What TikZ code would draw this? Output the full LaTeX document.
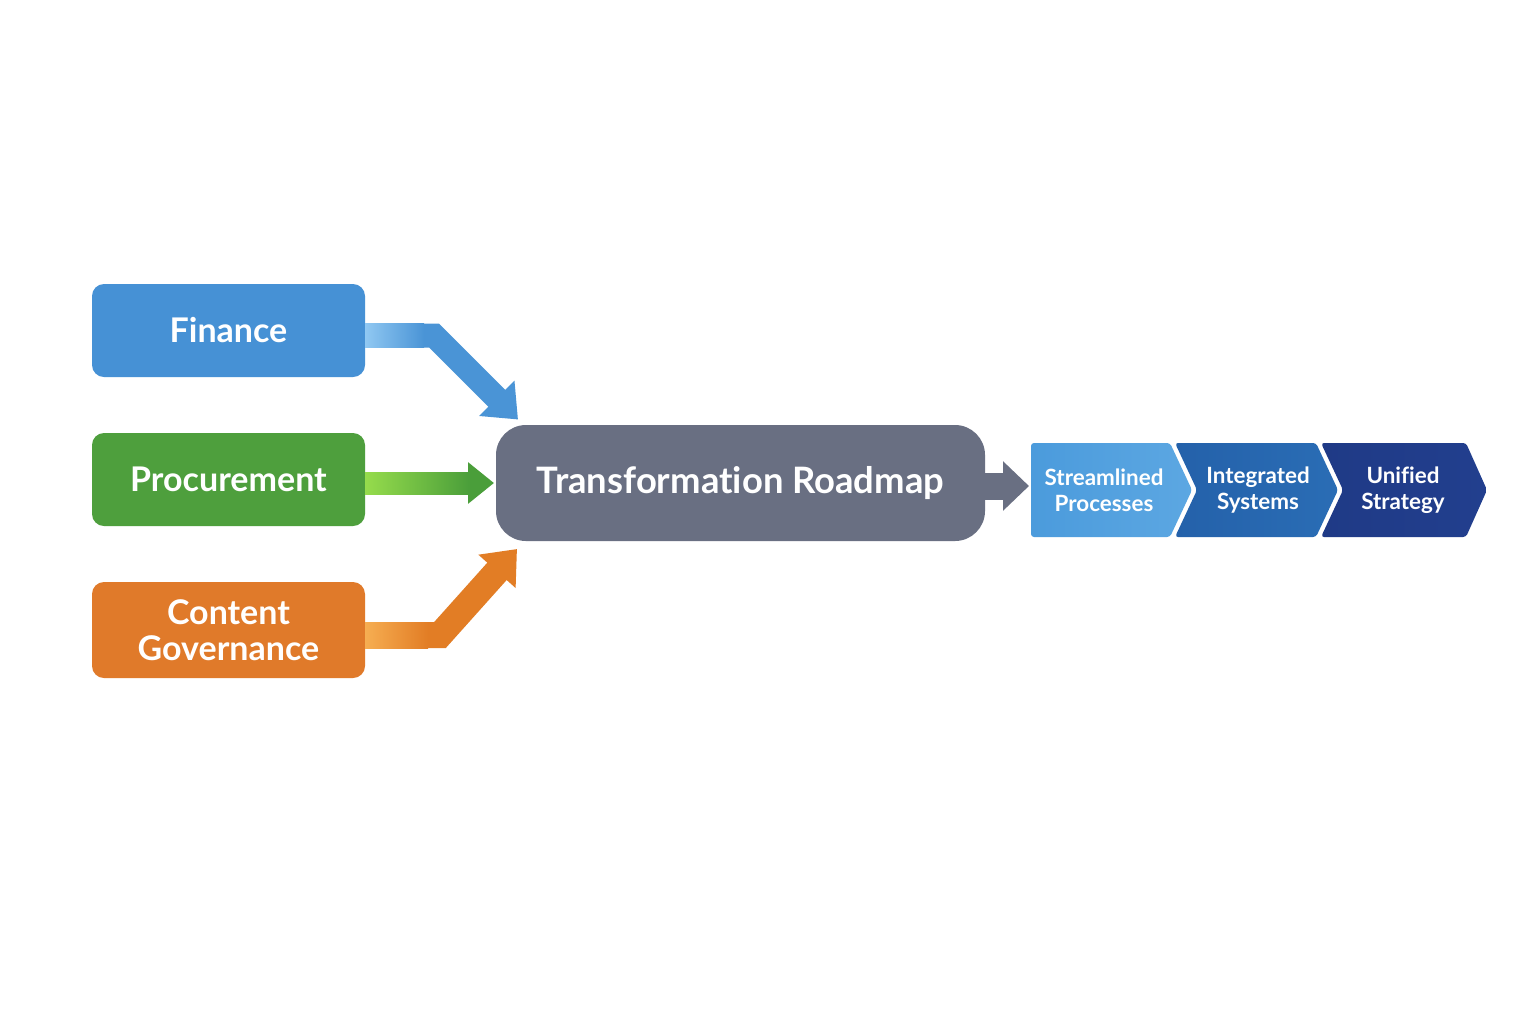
\documentclass[tikz,border=0pt]{standalone}
\usepackage{fontspec}
\setmainfont{Lato}[Ligatures=NoCommon]
\usetikzlibrary{arrows.meta,calc}
\definecolor{finC}{HTML}{4691D5}
\definecolor{finL}{HTML}{90C8F2}
\definecolor{finA}{HTML}{4A94D6}
\definecolor{proC}{HTML}{4E9F3D}
\definecolor{proL}{HTML}{96DC4C}
\definecolor{proA}{HTML}{4A9E3A}
\definecolor{conC}{HTML}{E07A2A}
\definecolor{conL}{HTML}{F6AE52}
\definecolor{conA}{HTML}{E27D25}
\definecolor{roadC}{HTML}{696F82}
\definecolor{chA}{HTML}{4B9BDC}
\definecolor{chAl}{HTML}{5CA7E2}
\definecolor{chB}{HTML}{2461AA}
\definecolor{chBl}{HTML}{2A6DB5}
\definecolor{chC}{HTML}{1F3A86}
\definecolor{chCl}{HTML}{223F8E}
\begin{document}
\begin{tikzpicture}[x=0.5pt,y=-0.5pt,
  srcbox/.style={rounded corners=6pt, minimum width=136.5pt, text=white,
    font=\bfseries\fontsize{17}{18}\selectfont, align=center, inner sep=0pt},
  arr/.style={line join=miter, line cap=butt},
  chtext/.style={text=white, font=\bfseries\fontsize{11.2}{13}\selectfont, align=center, inner sep=0pt}]
\useasboundingbox[fill=white] (0,0) rectangle (1536,1024);

% source boxes
\node[srcbox, fill=finC, minimum height=46.5pt] (fin) at (228.5,330.5) {Finance};
\node[srcbox, fill=proC, minimum height=46.5pt] (pro) at (228.5,479.5) {Procurement};
\node[srcbox, fill=conC, minimum height=48pt] (con) at (228.5,630) {Content\\Governance};

% roadmap
\node[fill=roadC, rounded corners=15pt, minimum width=244.5pt, minimum height=58pt,
  text=white, font=\bfseries\fontsize{18.2}{20}\selectfont, inner sep=0pt] (road) at (740.5,483) {Transformation Roadmap};

% input arrows
\coordinate (fint) at (518,419.5);
\coordinate (prot) at (494,483);
\coordinate (cont) at (517,549);
\draw[arr, finA, line width=12pt, -{Triangle[width=24pt,length=15pt]}]
  ($(fin.east)+(0,5)$) -- (434,335.5) -- (fint);
\shade[left color=finL, right color=finA] (365,323.5) rectangle (424,347.5);
\draw[arr, proA, line width=11pt, -{Triangle[width=20pt,length=13pt]}]
  ($(pro.east)+(0,3.5)$) -- (prot);
\shade[left color=proL, right color=proA] (365,472) rectangle (470,494);
\draw[arr, conA, line width=13pt, -{Triangle[width=24pt,length=15pt]}]
  ($(con.east)+(0,5)$) -- (440,635) -- (cont);
\shade[left color=conL, right color=conA] (365,622) rectangle (428,648);

% chevrons
\shade[left color=chA, right color=chAl, rounded corners=1.5pt]
  (1031,443) -- (1170,443) -- (1192,490) -- (1170,537) -- (1031,537) -- cycle;
\shade[left color=chB, right color=chBl, rounded corners=1.5pt]
  (1175,443) -- (1316,443) -- (1338,490) -- (1316,537) -- (1175,537) -- (1197,490) -- cycle;
\shade[left color=chC, right color=chCl, rounded corners=1.5pt]
  (1321,443) -- (1466,443) -- (1487,490) -- (1466,537) -- (1321,537) -- (1343,490) -- cycle;
\node[chtext] (c1) at (1104,490) {Streamlined\\Processes};
\node[chtext] (c2) at (1258,490) {Integrated\\Systems};
\node[chtext] (c3) at (1403,490) {Unified\\Strategy};

% output arrow
\coordinate (outt) at (1029,486);
\draw[arr, roadC, line width=13.5pt, -{Triangle[width=24pt,length=13pt]}]
  (road.east |- outt) -- (outt);
\end{tikzpicture}
\end{document}
